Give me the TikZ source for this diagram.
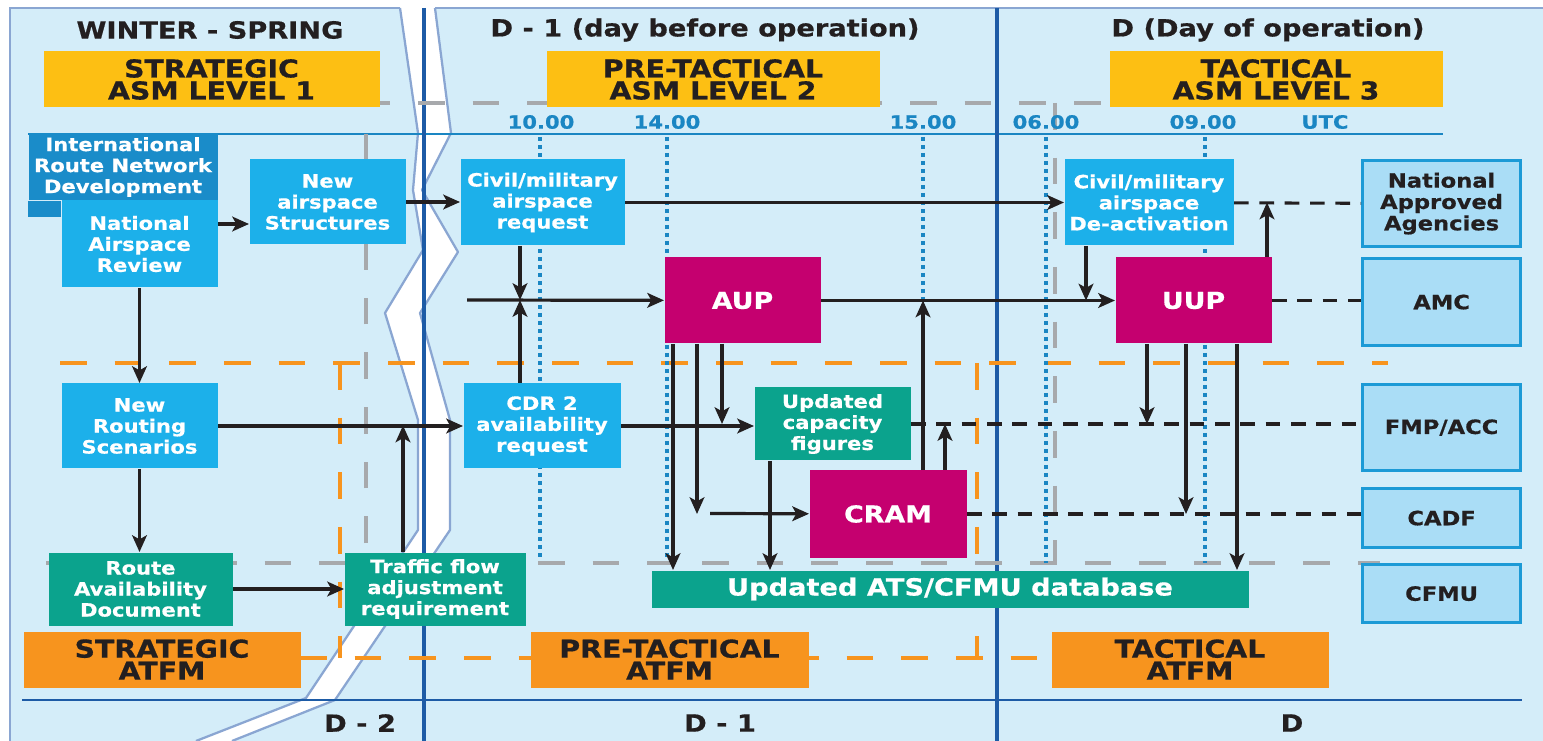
\documentclass[tikz,border=0pt]{standalone}
\usepackage{fontspec}
\newfontfamily\diafont{DejaVu Sans}[FakeStretch=1.15,FakeBold=0.6]
\usetikzlibrary{arrows.meta}

\definecolor{bgblue}{HTML}{D4EDF9}
\definecolor{framegrey}{HTML}{8AA6D2}
\definecolor{dayline}{HTML}{1D5BA6}
\definecolor{timeblue}{HTML}{1A86C3}
\definecolor{skyblue}{HTML}{1CB0EA}
\definecolor{intlblue}{HTML}{1A8CC9}
\definecolor{flowgreen}{HTML}{0BA38D}
\definecolor{aupred}{HTML}{C5006F}
\definecolor{asmyellow}{HTML}{FDBF13}
\definecolor{atfmorange}{HTML}{F7941E}
\definecolor{agencyfill}{HTML}{AADDF6}
\definecolor{agencyline}{HTML}{1C9AD6}
\definecolor{asmgrey}{HTML}{A7A9AC}
\definecolor{ink}{HTML}{231F20}

\tikzset{every picture/.style={line width=0.75pt}}
\tikzset{
  sz/.style 2 args={minimum width=#1*0.75pt, minimum height=#2*0.75pt},
  boxtxt/.style={anchor=north west, inner sep=0pt, align=center, font=\diafont\bfseries\fontsize{13.75}{15.75}\selectfont},
  skybox/.style={boxtxt, fill=skyblue, text=white},
  greenbox/.style={boxtxt, fill=flowgreen, text=white},
  unitbox/.style={boxtxt, fill=aupred, text=white, font=\diafont\bfseries\fontsize{17.5}{20}\selectfont},
  agency/.style={boxtxt, fill=agencyfill, draw=agencyline, line width=2.4pt, text=ink, font=\diafont\bfseries\fontsize{14.75}{16}\selectfont},
  phase/.style={boxtxt, text=ink, font=\diafont\bfseries\fontsize{18.5}{16.5}\selectfont},
  heading/.style={inner sep=0pt, text=ink, font=\diafont\bfseries\fontsize{17.75}{20}\selectfont},
  clock/.style={inner sep=0pt, text=timeblue, font=\diafont\bfseries\fontsize{13.75}{16}\selectfont},
  arr/.style={draw=ink, line width=2.4pt, -{Stealth[length=12.5pt,width=11pt,inset=3pt]}},
  dsh/.style={draw=ink, line width=2.3pt, dash pattern=on 11pt off 8pt},
  gdash/.style={draw=asmgrey, line width=3.4pt, dash pattern=on 20pt off 21pt},
  odash/.style={draw=atfmorange, line width=3.6pt, dash pattern=on 20pt off 21pt},
  tdot/.style={draw=timeblue, line width=3.2pt, dash pattern=on 3pt off 3pt},
  breakline/.style={draw=framegrey, line width=1.7pt, line join=round}
}

\begin{document}
\begin{tikzpicture}[x=0.75pt,y=0.75pt,yscale=-1,xscale=1]
\useasboundingbox (0,0) rectangle (1543,741);

%Shape: Rectangle [background]
\fill[bgblue] (10,8) rectangle (1543,741);
%Shape: Polygon [break between D-2 and D-1]
\fill[white] (400,8) -- (418,133) -- (413,190) -- (423,250) -- (385,313) -- (418,420) -- (418,530) -- (306,698) -- (196,741) -- (232,741) -- (335,700) -- (450,530) -- (450,420) -- (420,313) -- (458,252) -- (422,190) -- (451,133) -- (435,8) -- cycle ;
\draw[breakline] (400,8) -- (418,133) -- (413,190) -- (423,250) -- (385,313) -- (418,420) -- (418,530) -- (306,698) -- (196,741) ;
\draw[breakline] (435,8) -- (451,133) -- (422,190) -- (458,252) -- (420,313) -- (450,420) -- (450,530) -- (335,700) -- (232,741) ;
%Straight Lines [frame]
\draw[framegrey, line width=1.7pt] (10,741) -- (10,8) -- (400,8) ;
\draw[framegrey, line width=1.7pt] (435,8) -- (1543,8) ;

%Straight Lines [time axis and day limits]
\draw[timeblue, line width=2pt] (28,134) -- (1443,134) ;
\draw[dayline, line width=2.8pt] (424,8) -- (424,741) ;
\draw[dayline, line width=2.8pt] (997,8) -- (997,741) ;
\draw[dayline, line width=2pt] (22,700) -- (1522,700) ;

%Straight Lines [ASM area, grey]
\draw[gdash] (366,543) -- (366,103) -- (1109,103) ;
\draw[gdash] (1055,103) -- (1055,563) ;
\draw[gdash] (46,563) -- (1380,563) ;
%Straight Lines [ATFM area, orange]
\draw[odash] (60,363) -- (1388,363) ;
\draw[odash] (340,363) -- (340,658) ;
\draw[odash] (977,363) -- (977,658) ;
\draw[odash] (300,658) -- (1051,658) ;

% Text Node [clock times]
\node[clock] (t10) at (541,122) {10.00};
\node[clock] (t14) at (667,122) {14.00};
\node[clock] (t15) at (923,122) {15.00};
\node[clock] (t06) at (1046,122) {06.00};
\node[clock] (t09) at (1203,122) {09.00};
\node[clock] (tutc) at (1325,122) {UTC};
%Straight Lines [clock time markers]
\draw[tdot] (540,137) -- (540,557) ;
\draw[tdot] (667,137) -- (667,560) ;
\draw[tdot] (923,137) -- (923,470) ;
\draw[tdot] (1046,137) -- (1046,563) ;
\draw[tdot] (1205,137) -- (1205,563) ;

% Text Node [column headings]
\node[heading] (hws) at (210,30) {WINTER - SPRING};
\node[heading] (hdb) at (705,30) {D - 1 (day before operation)};
\node[heading] (hdo) at (1268,30) {D (Day of operation)};
\node[heading] (fd2) at (360,723) {D - 2};
\node[heading] (fd1) at (720,723) {D - 1};
\node[heading] (fd0) at (1292,723) {D};

%Shape: Rectangle [ASM levels]
\node[phase, fill=asmyellow, sz={336}{56}] (asm1) at (43,51) {STRATEGIC\\ASM LEVEL 1};
\node[phase, fill=asmyellow, sz={333}{56}] (asm2) at (546,51) {PRE-TACTICAL\\ASM LEVEL 2};
\node[phase, fill=asmyellow, sz={333}{56}] (asm3) at (1109,51) {TACTICAL\\ASM LEVEL 3};
%Shape: Rectangle [ATFM phases]
\node[phase, fill=atfmorange, sz={277}{56}] (atfm1) at (23,631) {STRATEGIC\\ATFM};
\node[phase, fill=atfmorange, sz={278}{56}] (atfm2) at (530,631) {PRE-TACTICAL\\ATFM};
\node[phase, fill=atfmorange, sz={277}{56}] (atfm3) at (1051,631) {TACTICAL\\ATFM};

%Shape: Rectangle [strategic column]
\node[skybox, fill=intlblue, sz={189}{67}] (intl) at (28,133) {International\\Route Network\\Development};
\fill[intlblue] (intl.south west) rectangle (61,217) ;
\node[skybox, sz={156}{87}] (natrev) at (61,200) {National\\Airspace\\Review};
\node[skybox, sz={156}{85}] (newair) at (249,159) {New\\airspace\\Structures};
\node[skybox, sz={156}{85}] (newrout) at (61,383) {New\\Routing\\Scenarios};
\node[greenbox, sz={184}{73}] (rad) at (48,552) {Route\\Availability\\Document};
\node[greenbox, sz={181}{73}] (tfa) at (344,552) {Traffic flow\\adjustment\\requirement};

%Shape: Rectangle [pre-tactical column]
\node[skybox, sz={164}{86}] (civreq) at (460,159) {Civil/military\\airspace\\request};
\node[skybox, sz={157}{85}] (cdr) at (463,383) {CDR 2\\availability\\request};
\node[unitbox, sz={156}{86}] (aup) at (664,257) {AUP};
\node[greenbox, sz={156}{73}] (capfig) at (754,387) {Updated\\capacity\\figures};
\node[unitbox, sz={157}{87}] (cram) at (809,470) {CRAM};
\node[greenbox, sz={597}{37}, font=\diafont\bfseries\fontsize{17.75}{20}\selectfont] (db) at (651,570) {Updated ATS/CFMU database};

%Shape: Rectangle [tactical column]
\node[skybox, sz={169}{86}] (deact) at (1064,159) {Civil/military\\airspace\\De-activation};
\node[unitbox, sz={156}{86}] (uup) at (1115,257) {UUP};

%Shape: Rectangle [agencies]
\node[agency, sz={158}{86}] (natag) at (1361,159) {National\\Approved\\Agencies};
\node[agency, sz={158}{87}] (amc) at (1361,257) {AMC};
\node[agency, sz={158}{86}] (fmp) at (1361,383) {FMP/ACC};
\node[agency, sz={158}{59}] (cadf) at (1361,487) {CADF};
\node[agency, sz={158}{58}] (cfmu) at (1361,563) {CFMU};

%Straight Lines [junctions]
\coordinate (jreq) at (520,300);
\coordinate (feed) at (467,300);
\coordinate (jtfa) at (403,425.5);
\coordinate (feedcram) at (710,513.5);

%Straight Lines [strategic flows]
\draw[arr] (natrev.east |- 0,224) -- (newair.west |- 0,224) ;
\draw[arr] (natrev) -- (newrout) ;
\draw[arr] (newrout.south) -- (newrout.south |- rad.north) ;
\draw[arr] (rad) -- (tfa) ;
\draw[arr] (tfa.north -| jtfa) -- (jtfa) ;
\draw[arr] (newrout) -- (cdr) ;
\draw[arr] (newair.east) -- (newair.east -| civreq.west) ;

%Straight Lines [pre-tactical flows]
\draw[arr] (civreq) -- (deact) ;
\draw[arr] (civreq.south -| jreq) -- (jreq) ;
\draw[arr] (cdr.north -| jreq) -- (jreq) ;
\draw[arr] (feed) -- (aup) ;
\draw[arr] (aup) -- (uup) ;
\draw[arr] (cdr.east) -- (cdr.east -| capfig.west) ;
\draw[arr] (aup.south -| 673,0) -- (db.north -| 673,0) ;
\draw[arr] (aup.south -| 697,0) -- (cram.west -| 697,0) ;
\draw[arr] (aup.south -| 722,0) -- (capfig.west -| 722,0) ;
\draw[arr] (feedcram) -- (cram) ;
\draw[arr] (capfig.south -| 770,0) -- (db.north -| 770,0) ;
\draw[arr] (cram.north -| t15) -- (aup.east -| t15) ;
\draw[arr] (cram.north -| 945,0) -- (capfig.east -| 945,0) ;

%Straight Lines [tactical flows]
\draw[arr] (deact.south -| 1086,0) -- (uup.west -| 1086,0) ;
\draw[arr] (uup.north -| 1267,0) -- (deact.east -| 1267,0) ;
\draw[arr] (uup.south -| 1147,0) -- (capfig.east -| 1147,0) ;
\draw[arr] (uup.south -| 1186,0) -- (cram.east -| 1186,0) ;
\draw[arr] (uup.south -| 1237,0) -- (db.north -| 1237,0) ;

%Straight Lines [links to agencies]
\draw[dsh] (deact) -- (natag) ;
\draw[dsh] (uup.east) -- (uup.east -| amc.west) ;
\draw[dsh] (capfig.east) -- (capfig.east -| fmp.west) ;
\draw[dsh] (cram.east) -- (cram.east -| cadf.west) ;
\end{tikzpicture}
\end{document}
